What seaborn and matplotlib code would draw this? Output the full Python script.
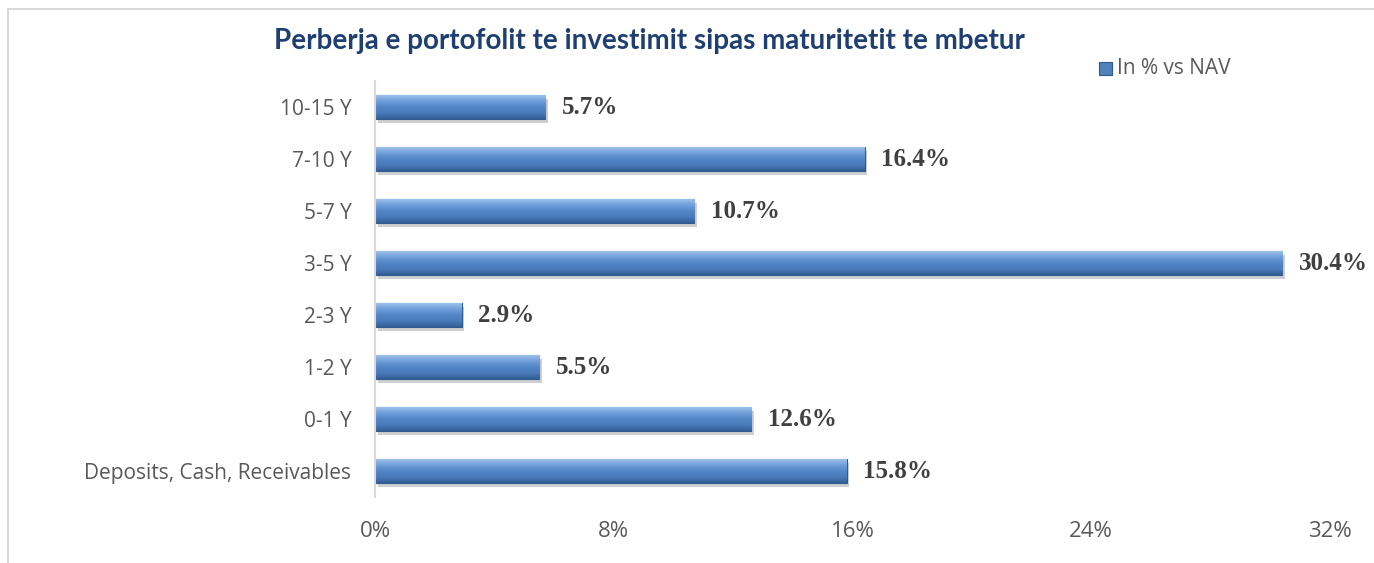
import matplotlib.pyplot as plt
import matplotlib.patheffects as pe
from matplotlib.colors import LinearSegmentedColormap
from matplotlib.patches import Rectangle
import seaborn as sns
import pandas as pd
import numpy as np

categories = ["10-15 Y", "7-10 Y", "5-7 Y", "3-5 Y", "2-3 Y", "1-2 Y", "0-1 Y",
              "Deposits, Cash, Receivables"]
values = [5.7, 16.4, 10.7, 30.4, 2.9, 5.5, 12.6, 15.8]
xticks = [0, 8, 16, 24, 32]
title = "Perberja e portofolit te investimit sipas maturitetit te mbetur"
series_name = "In % vs NAV"

df = pd.DataFrame({"cat": categories, "val": values})

sns.set_theme(style="white")
plt.rcParams['font.family'] = ['Open Sans', 'DejaVu Sans']

fig = plt.figure(figsize=(13.74, 5.63), dpi=100)
ax = fig.add_axes([0.273, 0.117, 0.695, 0.739])

sns.barplot(data=df, x="val", y="cat", orient="h", color="#4F81BD",
            width=0.46, ax=ax, edgecolor="#2F5A8C", linewidth=0.8)

# bevel-like vertical gradient on each bar
grad = LinearSegmentedColormap.from_list(
    "bev", ["#9CC0EA", "#6F9FDA", "#5286C6", "#4A7BBB", "#335F96"])
gimg = np.linspace(0, 1, 64).reshape(-1, 1)
for p in ax.patches:
    x0, y0 = p.get_x(), p.get_y()
    w, h = p.get_width(), p.get_height()
    p.set_path_effects([pe.SimplePatchShadow(offset=(2, -3), shadow_rgbFace="#777777", alpha=0.35),
                        pe.Normal()])
    im = ax.imshow(gimg, cmap=grad, aspect="auto", extent=(x0, x0 + w, y0 + h, y0),
                   origin="upper", zorder=p.get_zorder() + 0.1)
    im.set_clip_path(p)

for i, v in enumerate(values):
    ax.text(v + 0.55, i, f"{v:.1f}%", va="center", ha="left",
            fontsize=18, fontweight="bold", color="#404040",
            family=["Liberation Serif", "DejaVu Serif"])

ax.set_xlim(0, 32)
ax.set_ylim(len(categories) - 0.5, -0.5)
ax.set_xticks(xticks)
ax.set_xticklabels([f"{t}%" for t in xticks], fontsize=16, color="#595959")
ax.tick_params(axis="x", length=0, pad=17)
ax.tick_params(axis="y", length=0, pad=17, labelsize=15, labelcolor="#595959")
ax.set_xlabel("")
ax.set_ylabel("")
for s in ["top", "right", "bottom"]:
    ax.spines[s].set_visible(False)
ax.spines["left"].set_color("#D9D9D9")
ax.spines["left"].set_linewidth(1.5)

fig.text(0.473, 0.928, title, ha="center", va="center", fontsize=20,
         fontweight="bold", color="#1F3F73", family=["Lato", "DejaVu Sans"])

# legend
fig.patches.append(Rectangle((1099 / 1374, 1 - 75 / 563), 13 / 1374, 13 / 563,
                             transform=fig.transFigure, facecolor="#4F81BD",
                             edgecolor="#2F5A8C", linewidth=0.8))
fig.text(1117 / 1374, 1 - 68 / 563, series_name, ha="left", va="center",
         fontsize=15, color="#595959")

# chart frame
fig.add_artist(plt.Line2D([8 / 1374, 8 / 1374], [0, 1 - 9 / 563],
                          transform=fig.transFigure, color="#D9D9D9", linewidth=1.5))
fig.add_artist(plt.Line2D([8 / 1374, 1], [1 - 9 / 563, 1 - 9 / 563],
                          transform=fig.transFigure, color="#D9D9D9", linewidth=1.5))

fig.savefig("out.png", dpi=100)
